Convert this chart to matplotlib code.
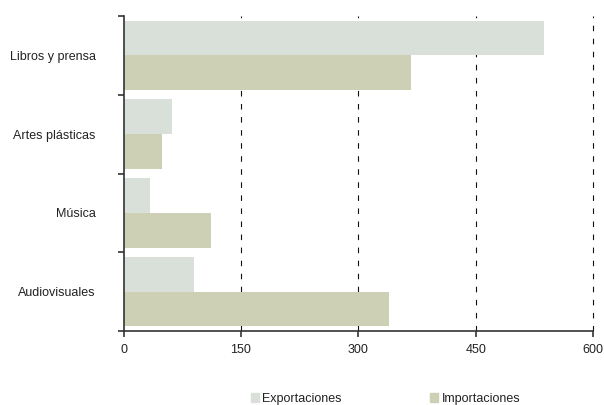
import numpy as np
import matplotlib.pyplot as plt
from matplotlib.patches import Patch

# ── Datos ────────────────────────────────────────────────────────────────
categorias = ["Libros y prensa", "Artes plásticas", "Música", "Audiovisuales"]
exportaciones = [537, 62, 34, 90]
importaciones = [367, 49, 112, 339]
xticks = [0, 150, 300, 450, 600]

COL_EXP = "#d9e0d9"
COL_IMP = "#cdd0b4"

plt.rcParams["font.family"] = ["Liberation Sans", "DejaVu Sans"]

fig = plt.figure(figsize=(6.04, 4.05), dpi=100)
ax = fig.add_axes([0.2045, 0.1827, 0.7775, 0.7778])

n = len(categorias)
y = np.arange(n)[::-1].astype(float)  # Libros arriba
h = 0.44

ax.barh(y + h / 2, exportaciones, height=h, color=COL_EXP, zorder=2)
ax.barh(y - h / 2, importaciones, height=h, color=COL_IMP, zorder=2)

ax.set_xlim(0, 600)
ax.set_ylim(-0.5, n - 0.5)
ax.set_xticks(xticks)
ax.set_xticklabels([str(v) for v in xticks], fontsize=9, color="#222222")

# etiquetas en el centro, marcas en los límites
ax.set_yticks(y)
ax.set_yticklabels(categorias, fontsize=9, color="#222222")
ax.tick_params(axis="y", which="major", length=0, pad=20)
ax.set_yticks(np.arange(-0.5, n), minor=True)
ax.tick_params(axis="y", which="minor", length=4, width=1.2, color="#333333")
ax.tick_params(axis="x", length=4, width=1.2, color="#333333", pad=5)

for v in xticks[1:]:
    ax.axvline(v, color="#111111", lw=0.8, linestyle=(0, (5, 6.75)),
               zorder=1, clip_on=False)

for s in ["top", "right"]:
    ax.spines[s].set_visible(False)
for s in ["left", "bottom"]:
    ax.spines[s].set_color("#333333")
    ax.spines[s].set_linewidth(1.2)

handles = [Patch(color=COL_EXP, label="Exportaciones"),
           Patch(color=COL_IMP, label="Importaciones")]
fig.legend(handles=handles, loc="center", bbox_to_anchor=(0.638, 0.015),
           ncol=2, frameon=False, fontsize=9, handlelength=0.65,
           handleheight=0.65, handletextpad=0.25, columnspacing=7.1,
           borderpad=0, labelcolor="#222222")

fig.savefig("out.png", dpi=100)
